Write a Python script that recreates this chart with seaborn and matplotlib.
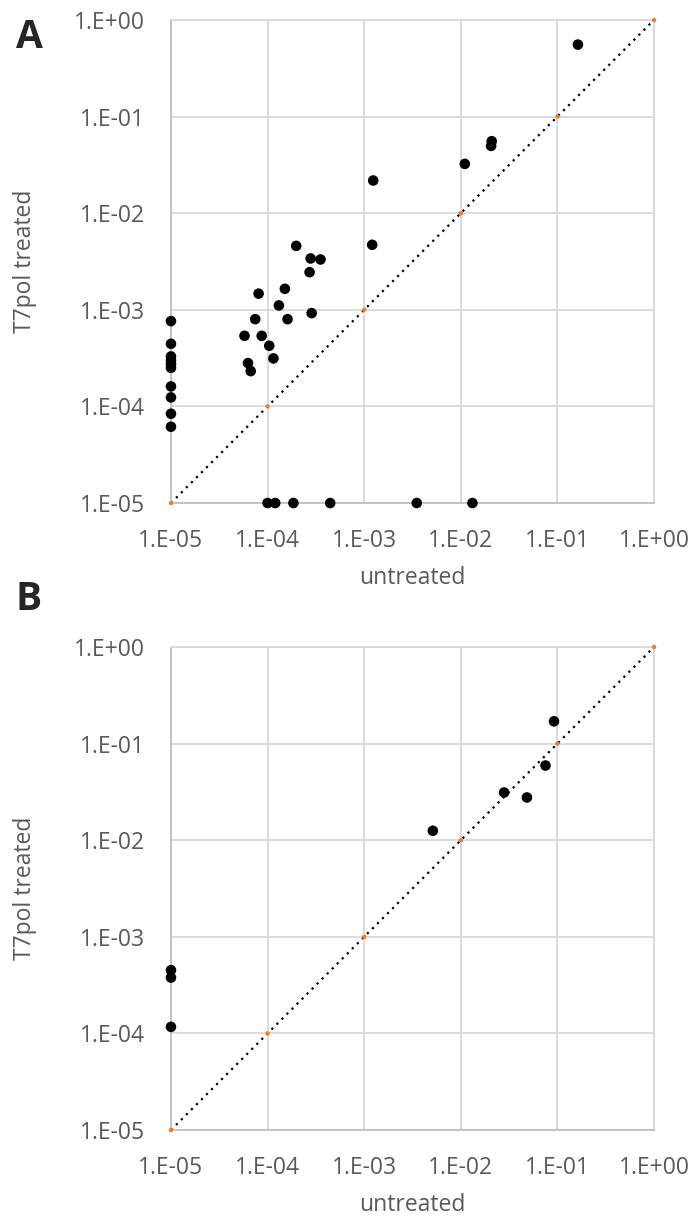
import matplotlib
matplotlib.use("Agg")
import numpy as np
import pandas as pd
import seaborn as sns
from matplotlib import pyplot as plt
from matplotlib.ticker import FixedLocator, FuncFormatter

sns.set_style("white")
plt.rcParams['font.family'] = ['Open Sans', 'DejaVu Sans']

# panel A values
a_untreated = [0.163, 0.0209, 0.0206, 0.011, 0.00124, 0.00121, 0.000198,
               0.000279, 0.000353, 0.000272, 8.07e-5, 0.000151, 0.000131,
               0.000286, 7.45e-5, 0.000161, 5.77e-5, 8.69e-5, 0.000104,
               0.000115, 6.27e-5, 6.69e-5,
               1e-5, 1e-5, 1e-5, 1e-5, 1e-5, 1e-5, 1e-5, 1e-5, 1e-5, 1e-5,
               1e-4, 0.00012, 0.000185, 0.000445, 0.0035, 0.0132]
a_treated = [0.556, 0.0556, 0.0497, 0.0324, 0.0218, 0.00471, 0.00459,
             0.0034, 0.00332, 0.00245, 0.00147, 0.00165, 0.00111,
             0.000924, 0.0008, 0.0008, 0.000538, 0.000538, 0.000425,
             0.000314, 0.000281, 0.000232,
             0.000764, 0.000445, 0.000329, 0.000299, 0.000276, 0.000251,
             0.000161, 0.000124, 8.4e-5, 6.16e-5,
             1e-5, 1e-5, 1e-5, 1e-5, 1e-5, 1e-5]

# panel B values
b_untreated = [0.0923, 0.0753, 0.0281, 0.0484, 0.00514, 1e-5, 1e-5, 1e-5]
b_treated = [0.170, 0.0593, 0.0312, 0.0277, 0.01253, 0.000452, 0.000379, 0.000117]

# reference diagonal
diag = [1e-5, 1e-4, 1e-3, 1e-2, 1e-1, 1e0]
tick_vals = [1e-5, 1e-4, 1e-3, 1e-2, 1e-1, 1e0]

gray_txt = "#595959"
grid_c = "#d9d9d9"


def fmt(v, pos):
    e = int(round(np.log10(v)))
    return "1.E%s%02d" % ("+" if e >= 0 else "-", abs(e))


fig = plt.figure(figsize=(6.95, 12.18), dpi=100)
ax_a = fig.add_axes([0.246, 0.587, 0.695, 0.3966])
ax_b = fig.add_axes([0.246, 0.0722, 0.695, 0.3966])

for ax, xs, ys in [(ax_a, a_untreated, a_treated), (ax_b, b_untreated, b_treated)]:
    df = pd.DataFrame({"untreated": xs, "treated": ys})
    ax.set_xscale("log")
    ax.set_yscale("log")
    ax.plot(diag, diag, color="black", ls=(0, (1, 2.2)), lw=1.6, zorder=2, clip_on=False)
    sns.scatterplot(x=diag, y=diag, ax=ax, color="#ed7d31", s=10,
                    edgecolor="none", zorder=3, clip_on=False)
    sns.scatterplot(data=df, x="untreated", y="treated", ax=ax, color="black",
                    s=58, edgecolor="none", zorder=4, clip_on=False)
    ax.set_xlim(1e-5, 1)
    ax.set_ylim(1e-5, 1)
    ax.xaxis.set_major_locator(FixedLocator(tick_vals))
    ax.yaxis.set_major_locator(FixedLocator(tick_vals))
    ax.xaxis.set_minor_locator(FixedLocator([]))
    ax.yaxis.set_minor_locator(FixedLocator([]))
    ax.xaxis.set_major_formatter(FuncFormatter(fmt))
    ax.yaxis.set_major_formatter(FuncFormatter(fmt))
    ax.grid(True, color=grid_c, lw=1.3, zorder=0)
    ax.set_axisbelow(True)
    for sp in ax.spines.values():
        sp.set_color(grid_c)
        sp.set_linewidth(1.3)
    ax.spines["left"].set_color("#bfbfbf")
    ax.spines["bottom"].set_color("#bfbfbf")
    ax.tick_params(length=0, labelsize=16.5, labelcolor=gray_txt)
    ax.tick_params(axis="x", pad=19)
    ax.tick_params(axis="y", pad=19)
    ax.set_xlabel("untreated", fontsize=16.5, color=gray_txt, labelpad=9)
    ax.set_ylabel("T7pol treated", fontsize=16.5, color=gray_txt, labelpad=8)
    ax.yaxis.set_label_coords(-0.277, 0.5)

fig.text(0.023, 0.9695, "A", fontsize=28, fontweight="bold", ha="left", va="center")
fig.text(0.023, 0.5075, "B", fontsize=28, fontweight="bold", ha="left", va="center")

fig.savefig("out.png", dpi=100)
